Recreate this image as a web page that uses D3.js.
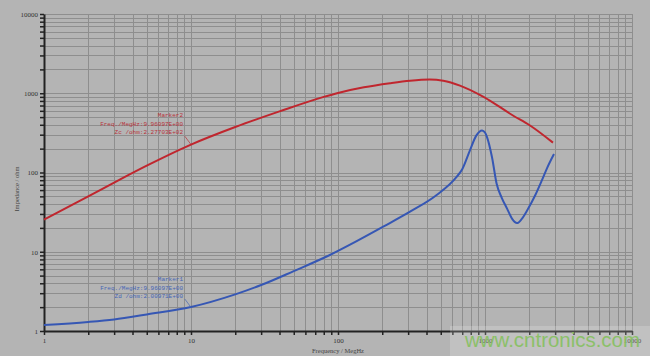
<!DOCTYPE html>
<html><head><meta charset="utf-8">
<script src="https://cdn.jsdelivr.net/npm/d3@7"></script>
<style>html,body{margin:0;padding:0;background:#b4b4b4;}svg{display:block;}</style>
</head><body>
<svg id="chart" width="650" height="356"></svg>
<script>
// Data
const decadeTicks = [1, 10, 100, 1000, 10000];
const tickLabels = ["1", "10", "100", "1000", "10000"];
const redFreq = [1, 2, 3.3, 5, 10, 20, 40, 80, 100, 150, 226, 309, 420, 520, 676, 970, 1550, 2025, 2900];
const redZ    = [25.5, 50, 82, 122, 225, 375, 590, 900, 1010, 1190, 1340, 1440, 1490, 1440, 1250, 908, 524, 392, 238];
const blueFreq = [1, 2, 3, 5, 10, 20, 30, 50, 88, 134, 203, 309, 469, 641, 700, 791, 870, 955, 1000, 1032, 1116, 1200, 1300, 1413, 1530, 1650, 1780, 1930, 2200, 2440, 2640, 2946];
const blueZ    = [1.19, 1.3, 1.4, 1.62, 2.01, 2.9, 3.8, 5.7, 9.1, 13.6, 20.7, 32, 52, 88, 110, 192, 290, 340, 320, 280, 156, 72, 48, 35, 26, 23, 26, 33, 52, 80, 113, 171];
const marker2Lines = ["Marker2", "Freq./MegHz:9.96097E+00", "Zc  /ohm:2.27703E+02"];
const marker1Lines = ["Marker1", "Freq./MegHz:9.96097E+00", "Zd  /ohm:2.00971E+00"];
const marker2 = [9.96097, 227.703];
const marker1 = [9.96097, 2.00971];

const svg = d3.select("#chart");
svg.append("rect").attr("width", 650).attr("height", 356).attr("fill", "#b4b4b4");

const x = d3.scaleLog().domain([1, 10000]).range([44, 632]);
const y = d3.scaleLog().domain([1, 10000]).range([331, 14]);

const allTicks = [];
decadeTicks.slice(0, 4).forEach(d => { for (let m = 1; m <= 9; m++) allTicks.push(d * m); });
allTicks.push(10000);

// grid
const grid = svg.append("g").attr("stroke", "#8e8e8e").attr("stroke-width", 1).attr("shape-rendering", "crispEdges");
allTicks.forEach(v => {
  grid.append("line").attr("x1", Math.round(x(v)) + 0.5).attr("x2", Math.round(x(v)) + 0.5).attr("y1", y(10000)).attr("y2", y(1));
  grid.append("line").attr("y1", Math.round(y(v)) + 0.5).attr("y2", Math.round(y(v)) + 0.5).attr("x1", x(1)).attr("x2", x(10000));
});

const fmt = v => { const i = decadeTicks.indexOf(v); return i >= 0 ? tickLabels[i] : ""; };

const yAxis = d3.axisLeft(y).tickValues(allTicks).tickFormat(fmt).tickSize(4).tickSizeOuter(0).tickPadding(2);
const gy = svg.append("g").attr("transform", "translate(44,0)").call(yAxis);
const xAxis = d3.axisBottom(x).tickValues(allTicks).tickFormat(fmt).tickSize(4).tickSizeOuter(0).tickPadding(3);
const gx = svg.append("g").attr("transform", "translate(0,331)").call(xAxis);
[gx, gy].forEach(g => {
  g.select(".domain").attr("stroke", "#222").attr("stroke-width", 2);
  g.selectAll(".tick line").attr("stroke", "#222").attr("stroke-width", 1.5);
  g.selectAll(".tick text").attr("fill", "#333").style("font-family", "Liberation Serif").style("font-size", "7px");
});

// axis titles
svg.append("text").attr("transform", "translate(19,189) rotate(-90)").attr("text-anchor", "middle")
  .style("font-family", "Liberation Serif").style("font-size", "6.5px").attr("fill", "#444").text("Impedance / ohm");
svg.append("text").attr("x", 338).attr("y", 352.5).attr("text-anchor", "middle")
  .style("font-family", "Liberation Serif").style("font-size", "6.5px").attr("fill", "#444").text("Frequency / MegHz");

// curves
const line = d3.line().x(d => x(d[0])).y(d => y(d[1])).curve(d3.curveMonotoneX);
svg.append("path").datum(redFreq.map((f, i) => [f, redZ[i]])).attr("d", line)
  .attr("fill", "none").attr("stroke", "#c0262e").attr("stroke-width", 2);
svg.append("path").datum(blueFreq.map((f, i) => [f, blueZ[i]])).attr("d", line)
  .attr("fill", "none").attr("stroke", "#3657b4").attr("stroke-width", 2);

// marker labels
function markerLabel(lines, pt, color, baseY) {
  const px = x(pt[0]), py = y(pt[1]);
  const g = svg.append("g");
  lines.forEach((t, i) => {
    g.append("text").attr("x", 183).attr("y", baseY + i * 8.5).attr("text-anchor", "end")
      .style("font-family", "Liberation Mono").style("font-size", "6px").attr("fill", color).text(t);
  });
  g.append("line").attr("x1", px - 6).attr("y1", py - 8).attr("x2", px).attr("y2", py)
    .attr("stroke", color).attr("stroke-width", 0.7);
}
markerLabel(marker2Lines, marker2, "#b8323a", 117);
markerLabel(marker1Lines, marker1, "#4565b5", 281);

// watermark
svg.append("rect").attr("x", 450).attr("y", 326).attr("width", 200).attr("height", 30).attr("fill", "#ffffff").attr("opacity", 0.18);
svg.append("text").attr("x", 465).attr("y", 347).attr("textLength", 175).attr("lengthAdjust", "spacingAndGlyphs")
  .style("font-family", "Liberation Sans").style("font-size", "20px").attr("fill", "#86c060").attr("opacity", 0.9).text("www.cntronics.com");
</script>
</body></html>
